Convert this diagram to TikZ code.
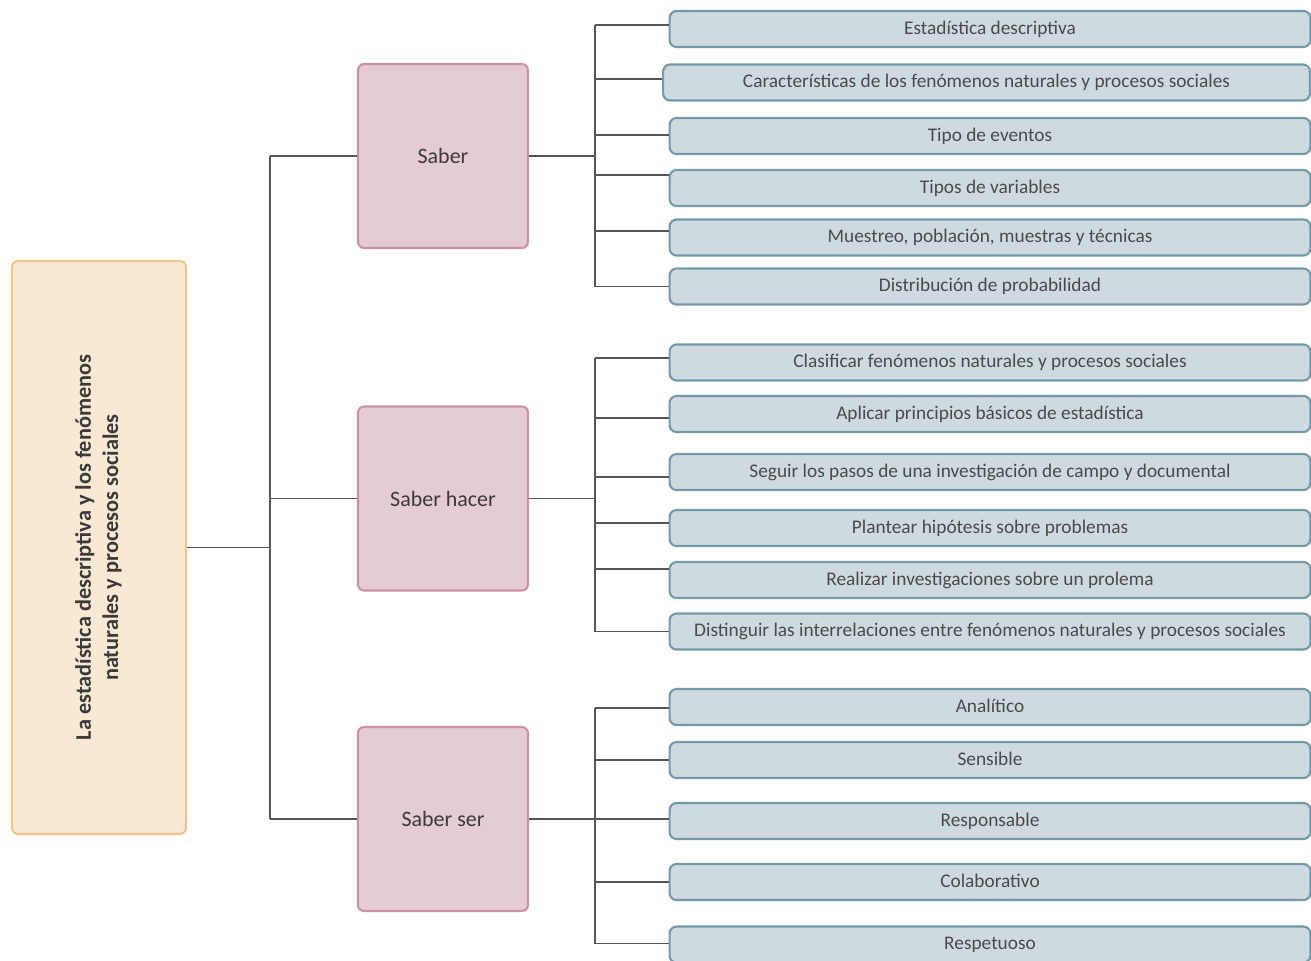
\documentclass[tikz,border=0pt]{standalone}
\usepackage{fontspec}
\setmainfont{Carlito}
\definecolor{raizfill}{HTML}{F9E9D4}
\definecolor{raizdraw}{HTML}{F0C688}
\definecolor{saberfill}{HTML}{E5CBD4}
\definecolor{saberdraw}{HTML}{CC91A6}
\definecolor{hojafill}{HTML}{CFDAE0}
\definecolor{hojadraw}{HTML}{7499A8}
\definecolor{linea}{HTML}{555555}
\definecolor{texto}{HTML}{3A3A3A}
\definecolor{textohoja}{HTML}{4A4A4A}
\tikzset{
  raiz/.style={draw=raizdraw,fill=raizfill,line width=1.2pt,rounded corners=0.12cm,
    minimum width=3.48cm,minimum height=11.46cm,inner sep=0pt,text=texto},
  saber/.style={draw=saberdraw,fill=saberfill,line width=1.2pt,rounded corners=0.12cm,
    minimum width=3.4cm,minimum height=3.68cm,inner sep=0pt,text=texto,
    font=\fontsize{12.5}{15}\selectfont},
  hoja/.style={draw=hojadraw,fill=hojafill,line width=1.2pt,rounded corners=0.14cm,
    minimum width=12.82cm,minimum height=0.72cm,inner sep=0pt,text=textohoja,
    text height=1.6ex,text depth=0.4ex,font=\fontsize{11}{13}\selectfont},
  rama/.style={draw=linea,line width=1.1pt}
}
\begin{document}
\begin{tikzpicture}[x=0.02cm,y=-0.02cm]
\useasboundingbox (0,0) rectangle (1311,960);
\clip (0,0) rectangle (1311,960);

% raiz
\node[raiz] (raiz) at (99,547.5) {\rotatebox{90}{\fontsize{12.7}{15.5}\selectfont\bfseries
  \begin{tabular}{c}La estadística descriptiva y los fenómenos\\naturales y procesos sociales\end{tabular}}};

% saberes
\node[saber] (saber) at (443,156)   {Saber};
\node[saber] (hacer) at (443,498.5) {Saber hacer};
\node[saber] (ser)   at (443,819)   {Saber ser};

% saber
\node[hoja] (s1) at (990,29)    {Estadística descriptiva};
\node[hoja,minimum width=12.94cm] (s2) at (986.5,82.5) {Características de los fenómenos naturales y procesos sociales};
\node[hoja] (s3) at (990,136)   {Tipo de eventos};
\node[hoja] (s4) at (990,188)   {Tipos de variables};
\node[hoja] (s5) at (990,237.5) {Muestreo, población, muestras y técnicas};
\node[hoja] (s6) at (990,286.5) {Distribución de probabilidad};

% saber hacer
\node[hoja] (h1) at (990,362.5) {Clasificar fenómenos naturales y procesos sociales};
\node[hoja] (h2) at (990,414)   {Aplicar principios básicos de estadística};
\node[hoja] (h3) at (990,472)   {Seguir los pasos de una investigación de campo y documental};
\node[hoja] (h4) at (990,528)   {Plantear hipótesis sobre problemas};
\node[hoja] (h5) at (990,580)   {Realizar investigaciones sobre un prolema};
\node[hoja] (h6) at (990,631.5) {Distinguir las interrelaciones entre fenómenos naturales y procesos sociales};

% saber ser
\node[hoja] (r1) at (990,707)   {Analítico};
\node[hoja] (r2) at (990,760)   {Sensible};
\node[hoja] (r3) at (990,821)   {Responsable};
\node[hoja] (r4) at (990,882)   {Colaborativo};
\node[hoja] (r5) at (990,944.5) {Respetuoso};

% tronco
\coordinate (tronco) at (270,0);
\draw[rama] (raiz.east) -- (tronco |- raiz.east);
\draw[rama] (tronco |- saber.west) -- (tronco |- ser.west);
\foreach \m in {saber,hacer,ser}
  \draw[rama] (tronco |- \m.west) -- (\m.west);

% ramas
\coordinate (bus) at (595,0);
\foreach \n/\d in {s1/4,s2/3.5,s3/1,s4/13,s5/6.5,s6/0,
                   h1/4.5,h2/-4,h3/-5,h4/5,h5/11,h6/0,
                   r1/-1,r2/0,r3/2,r4/0,r5/1}{
  \coordinate (c-\n) at ([yshift=\d*0.02cm]\n.west);
  \draw[rama] (bus |- c-\n) -- (c-\n);
}
\draw[rama] (saber.east) -- (bus |- saber.east);
\draw[rama] (hacer.east) -- (bus |- hacer.east);
\draw[rama] (ser.east)   -- (bus |- ser.east);
\draw[rama] (bus |- c-s1) -- (bus |- c-s6);
\draw[rama] (bus |- c-h1) -- (bus |- c-h6);
\draw[rama] (bus |- c-r1) -- (bus |- c-r5);
\end{tikzpicture}
\end{document}
